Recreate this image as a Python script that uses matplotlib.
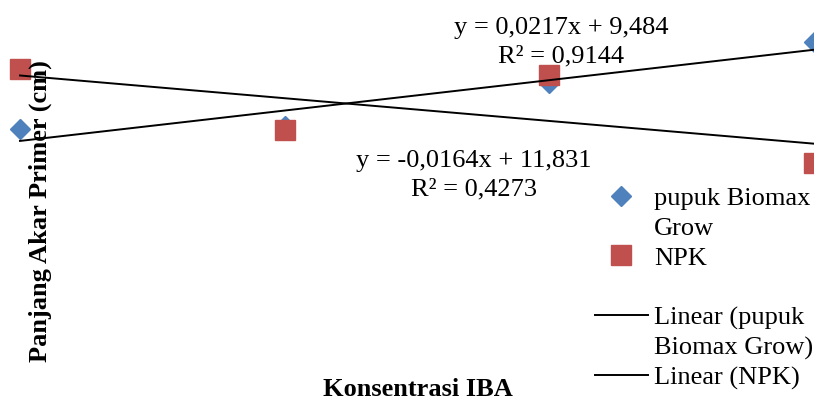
import numpy as np
import matplotlib
matplotlib.use("Agg")
import matplotlib.pyplot as plt
from matplotlib.lines import Line2D

# data
konsentrasi = [0, 50, 100, 150]
biomax = [9.91, 10.02, 11.55, 13.01]
npk = [12.05, 9.88, 11.83, 8.70]

# legend rows as Excel wraps them
seri_label = ["pupuk Biomax", "Grow", "NPK"]
trend_label = ["Linear (pupuk", "Biomax Grow)", "Linear (NPK)"]
eq_biomax = "y = 0,0217x + 9,484\nR² = 0,9144"
eq_npk = "y = -0,0164x + 11,831\nR² = 0,4273"

plt.rcParams['font.family'] = ['Liberation Serif', 'DejaVu Serif']

fig = plt.figure(figsize=(8.14, 4.01), dpi=100)
ax = fig.add_axes([0, 0, 1, 1])
ax.set_xlim(-3.78, 150)
ax.set_ylim(0.23, 14.52)
ax.axis('off')

biru = '#4F81BD'
merah = '#C0504D'

h_b, = ax.plot(konsentrasi, biomax, linestyle='none', marker='D', markersize=10,
               color=biru, zorder=2)
h_n, = ax.plot(konsentrasi, npk, linestyle='none', marker='s', markersize=14,
               color=merah, zorder=3)

xs = np.array([min(konsentrasi), max(konsentrasi)])
l_b, = ax.plot(xs, np.polyval(np.polyfit(konsentrasi, biomax, 1), xs),
               color='black', lw=1.4, zorder=4)
l_n, = ax.plot(xs, np.polyval(np.polyfit(konsentrasi, npk, 1), xs),
               color='black', lw=1.4, zorder=4)

ax.text(0.689, 0.895, eq_biomax, transform=ax.transAxes, ha='center', va='center',
        fontsize=19, linespacing=1.42, zorder=5)
ax.text(0.582, 0.564, eq_npk, transform=ax.transAxes, ha='center', va='center',
        fontsize=19, linespacing=1.38, zorder=5)

kosong = Line2D([], [], linestyle='none')
handles = [h_b, kosong, h_n, kosong, l_b, kosong, l_n]
labels = [seri_label[0], seri_label[1], seri_label[2], " ",
          trend_label[0], trend_label[1], trend_label[2]]
ax.legend(handles, labels, loc='upper left', bbox_to_anchor=(0.731, 0.535),
          frameon=False, fontsize=19, handlelength=2.0, handletextpad=0.23,
          labelspacing=0.24, borderpad=0, borderaxespad=0)

fig.text(40 / 814, 1 - 211 / 401, "Panjang Akar Primer (cm)", rotation=90,
         ha='center', va='center', fontsize=19, fontweight='bold')
fig.text(418 / 814, 1 - 389 / 401, "Konsentrasi IBA", ha='center', va='center',
         fontsize=19, fontweight='bold')

fig.savefig("out.png", dpi=100)
